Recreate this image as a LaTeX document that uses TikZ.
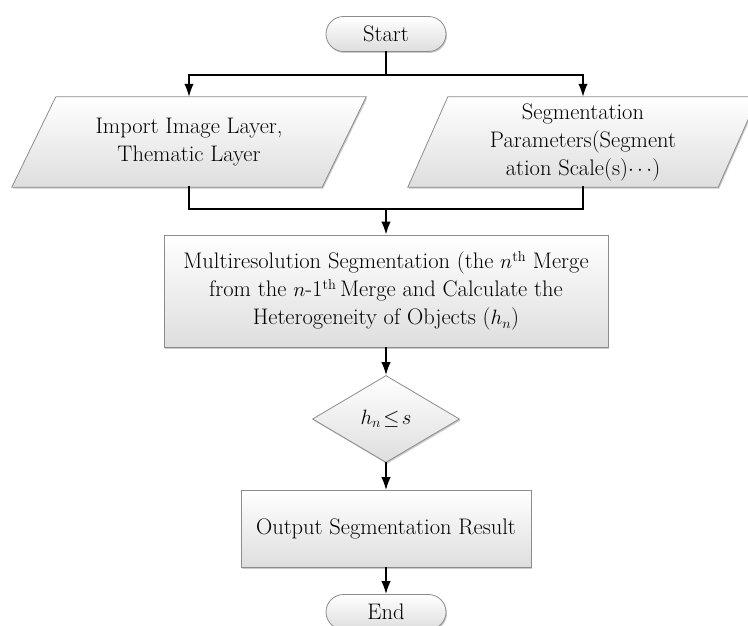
\documentclass[tikz,border=0pt]{standalone}
\usetikzlibrary{shapes.geometric,shapes.misc,arrows.meta,shadows,backgrounds}
\begin{document}
\begin{tikzpicture}[x=1pt,y=-1pt,
  every node/.style={font=\fontsize{22.5}{28}\selectfont, align=center, inner sep=0pt},
  shape box/.style={draw=black!45, line width=0.8pt, top color=white, bottom color=black!13,
    drop shadow={shadow xshift=1pt, shadow yshift=-1.5pt, fill=black!35, opacity=0.6}},
  terminal/.style={shape box, rounded rectangle, minimum width=120, minimum height=35},
  io/.style={minimum width=310, minimum height=90},
  process/.style={shape box, rectangle},
  decision/.style={shape box, diamond, aspect=1.7, minimum width=147, minimum height=87},
  flow/.style={line width=1.6pt, line cap=rect},
  arr/.style={flow, -{Latex[length=13pt,width=9.5pt]}}]
\useasboundingbox (0,0) rectangle (748,626);
% nodes
\node[terminal] (start) at (386,34) {Start};
\node[io] (import) at (189,142) {Import Image Layer,\\Thematic Layer};
\node[io] (param) at (583,142) {Segmentation\\Parameters(Segment\\ation Scale(s)$\cdots$)};
\node[process, minimum width=444, minimum height=112] (merge) at (386,291)
  {Multiresolution Segmentation (the $n^{\mathrm{th}}$ Merge\\
   from the $n$-1$^{\mathrm{th}}$\,Merge and Calculate the\\
   Heterogeneity of Objects ($h_n$)};
\node[decision] (test) at (386,419) {$h_n\!\leq\! s$};
\node[process, minimum width=290, minimum height=77] (output) at (386,529) {Output Segmentation Result};
\node[terminal] (end) at (386,612) {End};
% input/output parallelograms
\begin{scope}[on background layer]
\path[shape box] ([xshift=22]import.north west) -- ([xshift=22]import.north east)
  -- ([xshift=-22]import.south east) -- ([xshift=-22]import.south west) -- cycle;
\path[shape box] ([xshift=20]param.north west) -- ([xshift=20]param.north east)
  -- ([xshift=-20]param.south east) -- ([xshift=-20]param.south west) -- cycle;
\end{scope}
% connectors
\coordinate (split) at (386,75);
\coordinate (join) at (386,209);
\draw[flow] (start.south) -- (split);
\draw[arr] (split) -| (import.north);
\draw[arr] (split) -| (param.north);
\draw[flow] (import.south) |- (join);
\draw[flow] (param.south) |- (join);
\draw[arr] (join) -- (merge.north);
\draw[arr] (merge.south) -- (test.north);
\draw[arr] (test.south) -- (output.north);
\draw[arr] (output.south) -- (end.north);
\end{tikzpicture}
\end{document}
